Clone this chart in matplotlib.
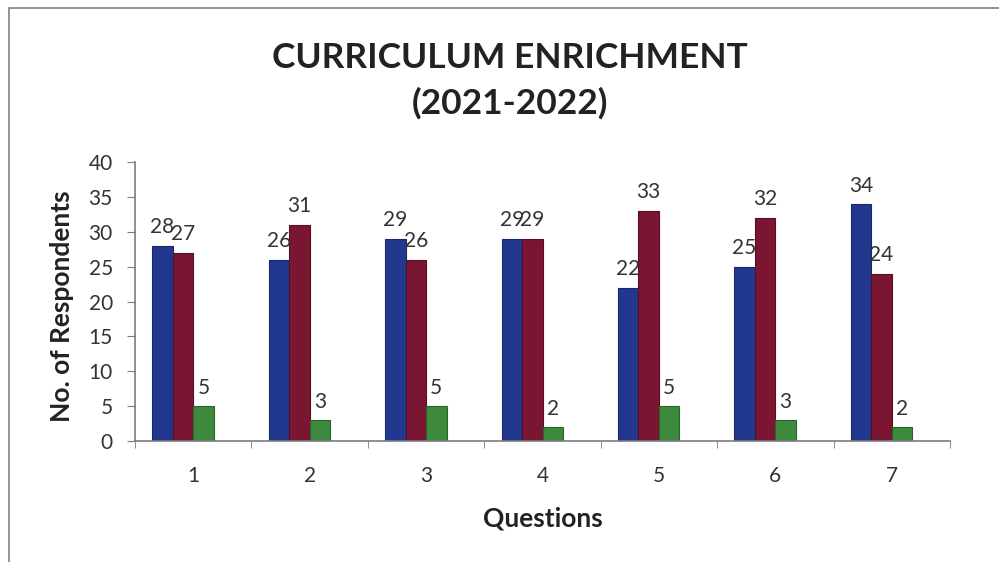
import matplotlib
matplotlib.use("Agg")
import matplotlib.pyplot as plt
import numpy as np
from matplotlib.patches import Rectangle

plt.rcParams['font.family'] = ['Lato', 'DejaVu Sans']

# Data
questions = ['1', '2', '3', '4', '5', '6', '7']
series_a = [28, 26, 29, 29, 22, 25, 34]
series_b = [27, 31, 26, 29, 33, 32, 24]
series_c = [5, 3, 5, 2, 5, 3, 2]

colors = ['#22388f', '#7a1632', '#3d8a3d']
edges = ['#18286a', '#561022', '#2a642a']

fig = plt.figure(figsize=(9.99, 5.62), dpi=100)
ax = fig.add_axes([135 / 999, 1 - 441 / 562, 815 / 999, 279 / 562])

# outer frame like the scanned chart border
fig.patches.append(Rectangle((9 / 999, -0.1), 1.2, 1 - 8 / 562 + 0.1, transform=fig.transFigure,
                             fill=False, edgecolor='#8a8a96', linewidth=1.3))

x = np.arange(len(questions))
w = 0.176
# Excel left room for a fourth (empty) series, so the three bars sit left of centre
offsets = [-1.5 * w, -0.5 * w, 0.5 * w]
for vals, off, c, ec in zip([series_a, series_b, series_c], offsets, colors, edges):
    bars = ax.bar(x + off, vals, width=w, color=c, edgecolor=ec, linewidth=0.8)
    for b, v in zip(bars, vals):
        ax.annotate(str(v), (b.get_x() + b.get_width() / 2, b.get_height()),
                    xytext=(0, 6), textcoords='offset points',
                    ha='center', va='bottom', fontsize=15, color='#333333')

ax.set_xlim(-0.5, len(questions) - 0.5)
ax.set_ylim(0, 40)
ax.set_yticks(range(0, 41, 5))
ax.set_xticks(x)
ax.set_xticklabels(questions)
ax.set_xticks(np.arange(-0.5, len(questions), 1), minor=True)
ax.tick_params(axis='x', which='major', length=0, pad=18, labelsize=15, labelcolor='#333333')
ax.tick_params(axis='x', which='minor', length=5, direction='out', color='#7a7a88')
ax.tick_params(axis='y', length=6, direction='out', color='#7a7a88', labelsize=15,
               labelcolor='#333333', pad=10)

for s in ['top', 'right']:
    ax.spines[s].set_visible(False)
for s in ['left', 'bottom']:
    ax.spines[s].set_color('#7a7a88')
    ax.spines[s].set_linewidth(1.2)

fig.text(510 / 999, 1 - 58 / 562, 'CURRICULUM ENRICHMENT', ha='center', va='center',
         fontsize=25.5, fontweight='bold', color='#222222')
fig.text(510 / 999, 1 - 103 / 562, '(2021-2022)', ha='center', va='center',
         fontsize=25.5, fontweight='bold', color='#222222')
fig.text(62 / 999, 1 - 306 / 562, 'No. of Respondents', ha='center', va='center',
         rotation=90, fontsize=19, fontweight='bold', color='#222222')
fig.text(543 / 999, 1 - 518 / 562, 'Questions', ha='center', va='center',
         fontsize=19, fontweight='bold', color='#222222')

fig.savefig('out.png', dpi=100)
